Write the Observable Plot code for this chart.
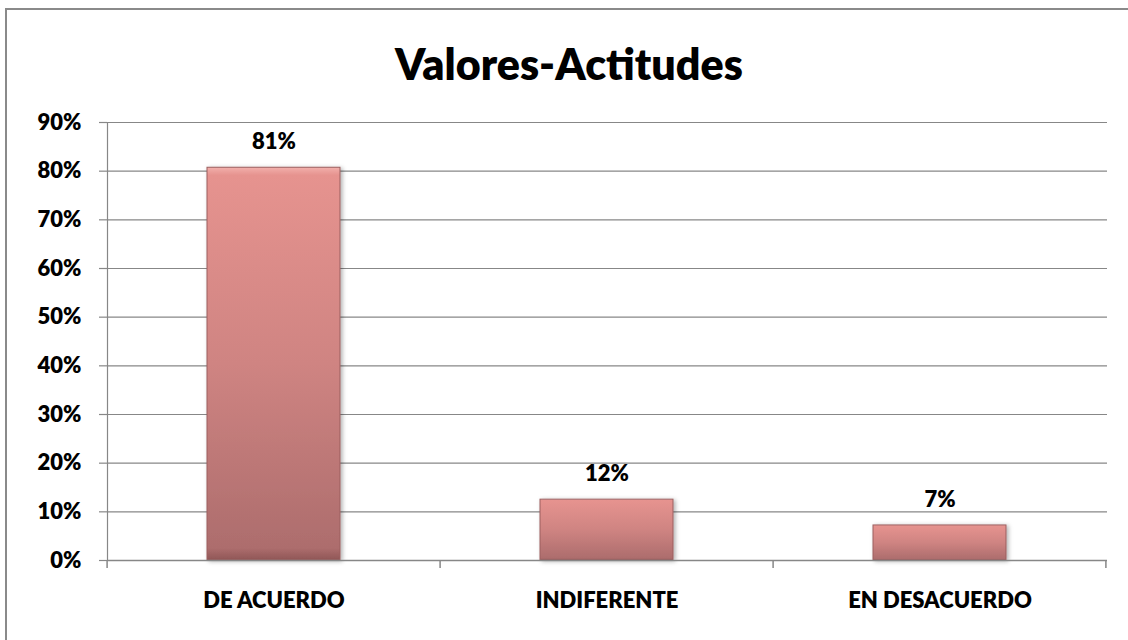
<!DOCTYPE html>
<html>
<head>
<meta charset="utf-8">
<script src="https://cdn.jsdelivr.net/npm/d3@7"></script>
<script src="https://cdn.jsdelivr.net/npm/@observablehq/plot@0.6"></script>
<style>
  html, body { margin: 0; padding: 0; background: #fff; overflow: hidden; }
  #wrap { position: relative; width: 1128px; height: 640px; overflow: hidden; }
  #border { position: absolute; left: 5px; top: 8px; width: 1200px; height: 700px; border: 2px solid #8a8a8a; box-sizing: border-box; }
  #title { position: absolute; left: 0; width: 1138px; top: 42px; text-align: center; font-family: Lato, sans-serif; font-weight: 800; font-size: 43px; color: #000; line-height: 1; }
  #chart { position: absolute; left: 0; top: 0; }
</style>
</head>
<body>
<div id="wrap">
  <div id="border"></div>
  <div id="chart"></div>
  <div id="title">Valores-Actitudes</div>
</div>
<script>
const title = "Valores-Actitudes";
const categories = ["DE ACUERDO", "INDIFERENTE", "EN DESACUERDO"];
const values = [0.807, 0.125, 0.072];
const valueLabels = ["81%", "12%", "7%"];
const yTicks = [0, 0.1, 0.2, 0.3, 0.4, 0.5, 0.6, 0.7, 0.8, 0.9];

const data = categories.map((c, i) => ({category: c, value: values[i], label: valueLabels[i]}));
const gridColor = "#878787";

const plot = Plot.plot({
  width: 1128,
  height: 640,
  marginTop: 122,
  marginBottom: 80,
  marginLeft: 107,
  marginRight: 21,
  style: {fontFamily: "Lato, sans-serif", fontWeight: "800", fontSize: "22px", color: "#000", background: "transparent", overflow: "visible"},
  x: {domain: categories, paddingInner: 0.6, paddingOuter: 0.3, label: null},
  y: {domain: [0, 0.9], label: null},
  marks: [
    Plot.gridY(yTicks, {stroke: gridColor, strokeOpacity: 1, strokeWidth: 1.2}),
    Plot.frame({anchor: "left", stroke: gridColor, strokeWidth: 1.2}),
    Plot.axisY(yTicks, {tickFormat: d3.format(".0%"), tickSize: 8, tickPadding: 18, stroke: gridColor, strokeWidth: 1.2, fontSize: 22, fontWeight: "800", fill: "#000", label: null}),
    Plot.axisX({tickSize: 0, tickPadding: 32, fontSize: 22, fontWeight: "800", fill: "#000", label: null}),
    Plot.barY(data, {x: "category", y: "value", fill: "url(#barGrad)", stroke: "#9b5f5f", strokeWidth: 1}),
    Plot.ruleY([0], {stroke: gridColor, strokeWidth: 1.5}),
    Plot.text(data, {x: "category", y: "value", text: "label", dy: -26, fontSize: 22, fontWeight: "800", fill: "#000"})
  ]
});

// gradient + shadow defs
const svg = d3.select(plot);
const defs = svg.insert("defs", ":first-child");
const g = defs.append("linearGradient").attr("id", "barGrad").attr("x1", 0).attr("y1", 0).attr("x2", 0).attr("y2", 1);
g.append("stop").attr("offset", "0%").attr("stop-color", "#f2b0ac");
g.append("stop").attr("offset", "2%").attr("stop-color", "#e6938f");
g.append("stop").attr("offset", "50%").attr("stop-color", "#cf8482");
g.append("stop").attr("offset", "97%").attr("stop-color", "#ad6d6d");
g.append("stop").attr("offset", "100%").attr("stop-color", "#8f5656");
const f = defs.append("filter").attr("id", "barShadow").attr("x", "-10%").attr("y", "-10%").attr("width", "130%").attr("height", "130%");
f.append("feDropShadow").attr("dx", 2).attr("dy", 1).attr("stdDeviation", 2).attr("flood-color", "#000").attr("flood-opacity", 0.3);
svg.selectAll("rect").filter(function(){ return this.getAttribute("fill") === "url(#barGrad)" || (this.parentNode && this.parentNode.getAttribute("fill") === "url(#barGrad)"); }).attr("filter", "url(#barShadow)");

// x-axis ticks at band boundaries derived from the library's x scale
const xs = plot.scale("x");
const ys = plot.scale("y");
const gap = xs.step * xs.paddingInner / 2;
const bounds = categories.map(c => xs.apply(c) - gap);
bounds.push(xs.apply(categories[categories.length - 1]) + xs.bandwidth + gap);
const y0 = ys.apply(0);
const tg = svg.append("g").attr("stroke", gridColor).attr("stroke-width", 1.5);
bounds.forEach(b => tg.append("line").attr("x1", b).attr("x2", b).attr("y1", y0).attr("y2", y0 + 8));

document.getElementById("chart").appendChild(plot);
</script>
</body>
</html>
